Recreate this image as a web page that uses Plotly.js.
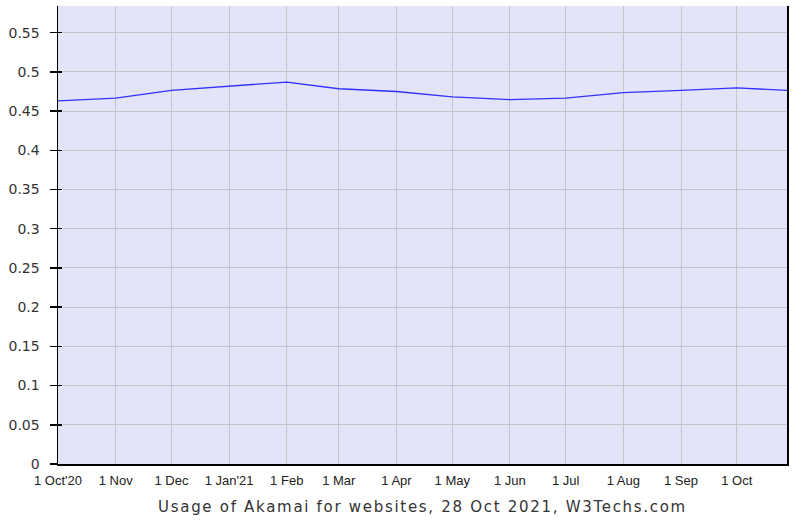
<!DOCTYPE html>
<html>
<head>
<meta charset="utf-8">
<script src="https://cdn.plot.ly/plotly-3.0.1.min.js"></script>
<style>html,body{margin:0;padding:0;background:#fff;}#chart{width:810px;height:527px;}</style>
</head>
<body>
<div id="chart"></div>
<script>
const dates = ["2020-10-01","2020-11-01","2020-12-01","2021-01-01","2021-02-01","2021-03-01","2021-04-01","2021-05-01","2021-06-01","2021-07-01","2021-08-01","2021-09-01","2021-10-01","2021-10-28"];
const usage = [0.463,0.4665,0.4765,0.4815,0.487,0.4785,0.475,0.468,0.4645,0.4665,0.4735,0.4765,0.4795,0.4765];
const tickDates = ["2020-10-01","2020-11-01","2020-12-01","2021-01-01","2021-02-01","2021-03-01","2021-04-01","2021-05-01","2021-06-01","2021-07-01","2021-08-01","2021-09-01","2021-10-01"];
const tickLabels = ["1 Oct'20","1 Nov","1 Dec","1 Jan'21","1 Feb","1 Mar","1 Apr","1 May","1 Jun","1 Jul","1 Aug","1 Sep","1 Oct"];
const yTicks = [0,0.05,0.1,0.15,0.2,0.25,0.3,0.35,0.4,0.45,0.5,0.55];
const yLabels = ["0","0.05","0.1","0.15","0.2","0.25","0.3","0.35","0.4","0.45","0.5","0.55"];
const chartTitle = 'Usage of Akamai for websites, 28 Oct 2021, W3Techs.com';

Plotly.newPlot('chart', [{
  x: dates, y: usage, type: 'scatter', mode: 'lines',
  line: {color: '#3030ff', width: 1.3}, hoverinfo: 'skip'
}, {
  x: dates, y: usage, type: 'scatter', mode: 'lines', yaxis: 'y2',
  line: {color: 'rgba(0,0,0,0)', width: 0}, hoverinfo: 'skip'
}], {
  width: 810, height: 527,
  margin: {l: 58, r: 23, t: 6, b: 63},
  paper_bgcolor: '#ffffff', plot_bgcolor: '#e4e4f8',
  showlegend: false,
  font: {family: 'DejaVu Sans, Verdana, sans-serif', color: '#333'},
  xaxis: {
    type: 'date', range: ['2020-10-01','2021-10-28'],
    tickvals: tickDates, ticktext: tickLabels, tickmode: 'array',
    showgrid: true, gridcolor: '#c6c6ca', gridwidth: 1,
    showline: true, linecolor: '#000', linewidth: 1.5,
    ticks: '', ticklabelstandoff: 4,
    tickfont: {family: 'Liberation Sans, Arial, sans-serif', size: 13, color: '#222'},
    zeroline: false, fixedrange: true,
    title: {text: chartTitle, font: {family: 'DejaVu Sans, Verdana, sans-serif', size: 15, color: '#333'}, standoff: 14}
  },
  yaxis: {
    range: [0, 0.584], tickmode: 'array', tickvals: yTicks, ticktext: yLabels,
    showgrid: true, gridcolor: '#c6c6ca', gridwidth: 1,
    showline: true, linecolor: '#000', linewidth: 1.5, mirror: true,
    ticks: 'outside', ticklen: 7, tickcolor: '#000', tickwidth: 1.5,
    ticklabelstandoff: 7,
    tickfont: {family: 'DejaVu Sans, Verdana, sans-serif', size: 14, color: '#333'},
    zeroline: false, fixedrange: true
  },
  yaxis2: {
    overlaying: 'y', matches: 'y', side: 'left',
    tickmode: 'array', tickvals: yTicks, showticklabels: false,
    showgrid: false, showline: false, zeroline: false,
    ticks: 'inside', ticklen: 4, tickcolor: '#000', tickwidth: 1.5, fixedrange: true
  }
}, {staticPlot: true, displayModeBar: false}).then(function(gd){
  const t = gd.querySelector('.g-xtitle text');
  if (t) { t.style.letterSpacing = '1.7px'; }
});
</script>
</body>
</html>
